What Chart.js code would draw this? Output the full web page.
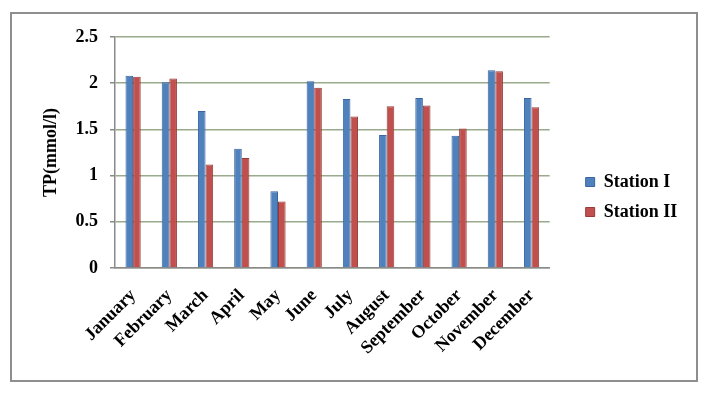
<!DOCTYPE html>
<html lang="en">
<head>
    <meta charset="UTF-8">
    <title>TP by month</title>
    <style>
        body {
            margin: 0;
            padding: 0;
            background-color: #ffffff;
        }
        .frame {
            position: absolute;
            left: 10px;
            top: 12px;
            width: 684px;
            height: 366px;
            border: 2px solid #8e8e8e;
        }
        .chart-container {
            position: absolute;
            left: 0;
            top: 0;
            width: 714px;
            height: 394px;
        }
    </style>
    <script src="https://cdn.jsdelivr.net/npm/chart.js"></script>
</head>
<body>
    <div class="frame"></div>
    <div class="chart-container">
        <canvas id="plot"></canvas>
    </div>

    <script>
        const months = ['January', 'February', 'March', 'April', 'May', 'June',
                        'July', 'August', 'September', 'October', 'November', 'December'];
        const stationI  = [2.08, 2.01, 1.70, 1.29, 0.83, 2.02, 1.83, 1.44, 1.84, 1.43, 2.14, 1.84];
        const stationII = [2.07, 2.05, 1.12, 1.19, 0.72, 1.95, 1.64, 1.75, 1.76, 1.51, 2.13, 1.74];
        const yTicks = [0, 0.5, 1, 1.5, 2, 2.5];

        const serif = 'Liberation Serif, Times New Roman, serif';
        const gridColor = '#9aaa8c';

        const ctx = document.getElementById('plot').getContext('2d');
        new Chart(ctx, {
            type: 'bar',
            data: {
                labels: months,
                datasets: [{
                    label: 'Station I',
                    data: stationI,
                    backgroundColor: '#4F81BD',
                    borderColor: '#3A65A0',
                    borderWidth: 1
                }, {
                    label: 'Station II',
                    data: stationII,
                    backgroundColor: '#C0504D',
                    borderColor: '#943B39',
                    borderWidth: 1
                }]
            },
            options: {
                responsive: true,
                maintainAspectRatio: false,
                animation: false,
                datasets: {
                    bar: {
                        categoryPercentage: 0.42,
                        barPercentage: 1.0
                    }
                },
                layout: {
                    padding: { left: 12, right: 28, top: 37, bottom: 37 }
                },
                scales: {
                    x: {
                        grid: { display: false, drawTicks: false },
                        border: { display: true, color: '#8a8a8a', width: 1.5 },
                        ticks: {
                            color: '#000',
                            minRotation: 45,
                            maxRotation: 45,
                            padding: 17,
                            font: { family: serif, size: 18, weight: 'bold' }
                        },
                        afterFit: function (scale) { scale.height = 89; }
                    },
                    y: {
                        min: 0,
                        max: 2.5,
                        afterBuildTicks: function (scale) {
                            scale.ticks = yTicks.map(v => ({ value: v }));
                        },
                        grid: {
                            color: gridColor,
                            lineWidth: 1.5,
                            tickLength: 5,
                            tickColor: '#8a8a8a'
                        },
                        border: { display: true, color: '#8a8a8a', width: 1.5 },
                        ticks: {
                            color: '#000',
                            padding: 12,
                            font: { family: serif, size: 18, weight: 'bold' },
                            callback: function (value) { return String(value); }
                        },
                        title: {
                            display: true,
                            text: 'TP(mmol/l)',
                            color: '#000',
                            padding: { top: 29, bottom: 0 },
                            font: { family: serif, size: 18, weight: 'bold' }
                        },
                        afterFit: function (scale) { scale.width = 103; }
                    },
                    gap: {
                        type: 'linear',
                        position: 'right',
                        display: true,
                        grid: { display: false, drawTicks: false },
                        border: { display: false },
                        ticks: { display: false },
                        afterFit: function (scale) { scale.width = 24; }
                    }
                },
                plugins: {
                    legend: {
                        position: 'right',
                        labels: {
                            color: '#000',
                            boxWidth: 9,
                            boxHeight: 9,
                            padding: 12,
                            font: { family: serif, size: 18, weight: 'bold' }
                        }
                    },
                    tooltip: { enabled: false }
                }
            }
        });
    </script>
</body>
</html>
